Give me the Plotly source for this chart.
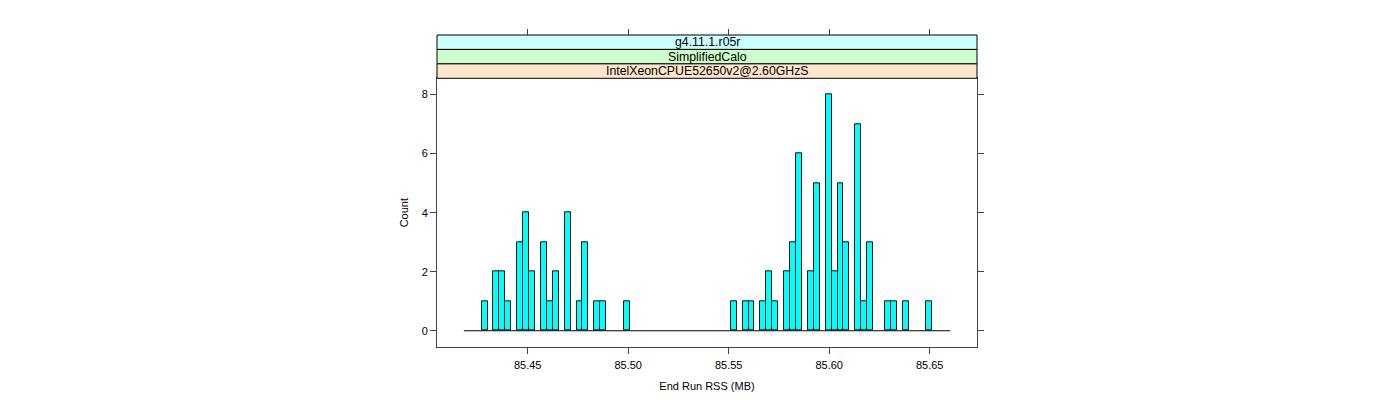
import plotly.graph_objects as go

# ---- data ----
bin_start = 85.4182
bin_width = 0.002951
counts = [0, 0, 0, 1, 0, 2, 2, 1, 0, 3, 4, 2, 0, 3, 1, 2, 0, 4, 0, 1,
          3, 0, 1, 1, 0, 0, 0, 1, 0, 0, 0, 0, 0, 0, 0, 0, 0, 0, 0, 0,
          0, 0, 0, 0, 0, 1, 0, 1, 1, 0, 1, 2, 1, 0, 2, 3, 6, 0, 2, 5,
          0, 8, 2, 5, 3, 0, 7, 1, 3, 0, 0, 1, 1, 0, 1, 0, 0, 0, 1, 0,
          0, 0]
x_ticks = [85.45, 85.50, 85.55, 85.60, 85.65]
x_tick_labels = ["85.45", "85.50", "85.55", "85.60", "85.65"]
y_ticks = [0, 2, 4, 6, 8]
strip_labels = ["g4.11.1.r05r", "SimplifiedCalo", "IntelXeonCPUE52650v2@2.60GHzS"]
strip_colors = ["#CCFFFF", "#CCFFCC", "#FFE5CC"]

n_bins = len(counts)
centers = [bin_start + (i + 0.5) * bin_width for i in range(n_bins)]
edges = [bin_start, bin_start + n_bins * bin_width]
span = edges[1] - edges[0]
pad = 0.0551 * span
x_range = [edges[0] - pad, edges[1] + pad]
y_range = [-0.55, 8.55]

bar_x = [c for c, n in zip(centers, counts) if n > 0]
bar_y = [n for n in counts if n > 0]

FONT = "Liberation Sans, Arial, Helvetica, sans-serif"
LINE = "#444444"

fig = go.Figure()
fig.add_trace(go.Scatter(x=edges, y=[0, 0], mode="lines",
                         line=dict(color="black", width=1),
                         hoverinfo="skip", showlegend=False))
fig.add_trace(go.Bar(x=bar_x, y=bar_y, width=bin_width,
                     marker=dict(color="#00FFFF", line=dict(color="#111111", width=1)),
                     showlegend=False))
# invisible trace for top axis
fig.add_trace(go.Scatter(x=edges, y=[0, 0], xaxis="x2", mode="lines",
                         line=dict(width=0), opacity=0, hoverinfo="skip",
                         showlegend=False))

W, H = 1400, 400
m_l, m_r, m_t, m_b = 429, 431, 27, 61
plot_h = H - m_t - m_b
dom_top = 268.7 / plot_h
strip_h = (1 - dom_top) / 3

fig.update_layout(
    width=W, height=H,
    margin=dict(l=m_l, r=m_r, t=m_t, b=m_b, pad=0),
    paper_bgcolor="white", plot_bgcolor="white",
    font=dict(family=FONT, size=11, color="black"),
    bargap=0,
    xaxis=dict(range=x_range, tickvals=x_ticks, ticktext=x_tick_labels,
               ticks="outside", ticklen=6, tickcolor=LINE, showgrid=False,
               zeroline=False, showline=True, linecolor=LINE, mirror=True,
               tickfont=dict(size=11), ticklabelstandoff=2,
               title=dict(text="End Run RSS (MB)", font=dict(size=11), standoff=12)),
    xaxis2=dict(overlaying="x", matches="x", side="top", anchor="free", position=1,
                tickvals=x_ticks, ticks="outside", ticklen=6, tickcolor=LINE,
                showticklabels=False, showgrid=False, zeroline=False, showline=False),
    yaxis=dict(range=y_range, domain=[0, dom_top], tickvals=y_ticks,
               ticks="outside", ticklen=6, tickcolor=LINE, showgrid=False,
               zeroline=False, showline=True, linecolor=LINE, mirror="ticks",
               tickfont=dict(size=11),
               title=dict(text="Count", font=dict(size=11), standoff=10)),
)

shapes = []
annotations = []
for k, (lab, col) in enumerate(zip(strip_labels, strip_colors)):
    y1 = 1 - k * strip_h
    y0 = y1 - strip_h
    shapes.append(dict(type="rect", xref="paper", yref="paper", x0=0, x1=1,
                       y0=y0, y1=y1, fillcolor=col,
                       line=dict(color="black", width=1), layer="above"))
    annotations.append(dict(text=lab, xref="paper", yref="paper", x=0.5,
                            y=(y0 + y1) / 2, showarrow=False,
                            font=dict(size=12.3, family=FONT, color="black"),
                            xanchor="center", yanchor="middle"))
fig.update_layout(shapes=shapes, annotations=annotations)

fig.write_html("out.html")
